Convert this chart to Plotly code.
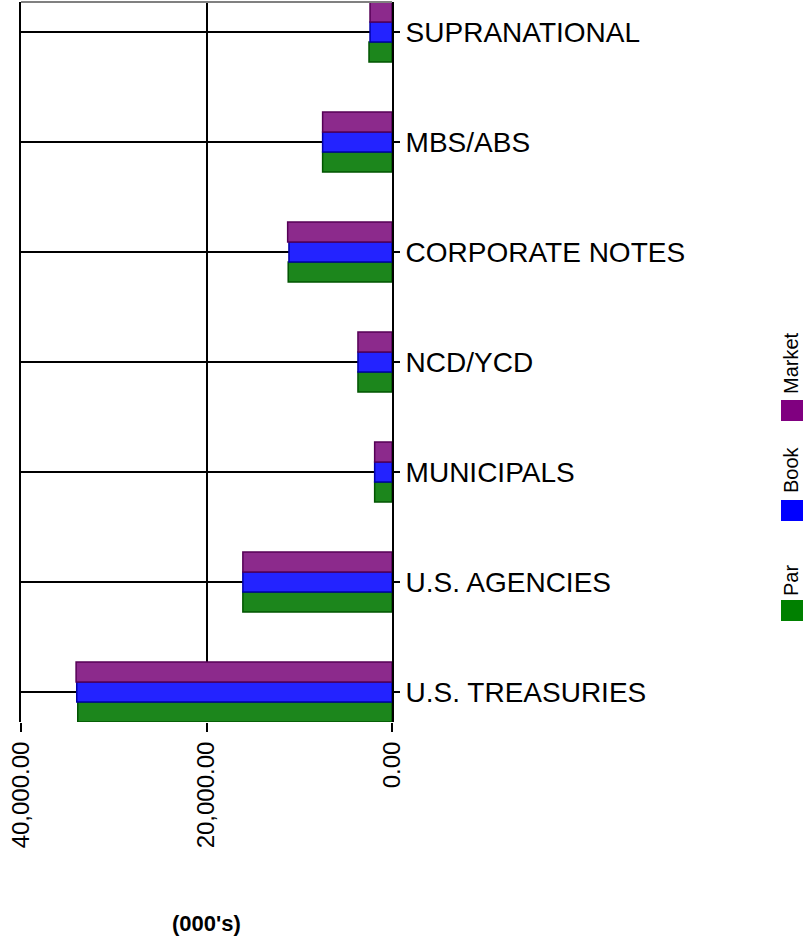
import plotly.graph_objects as go

categories = ["U.S. TREASURIES", "U.S. AGENCIES", "MUNICIPALS", "NCD/YCD",
              "CORPORATE NOTES", "MBS/ABS", "SUPRANATIONAL"]
par = [33880, 16080, 1870, 3670, 11190, 7480, 2480]
book = [33990, 16080, 1870, 3670, 11110, 7480, 2370]
market = [34060, 16080, 1870, 3670, 11250, 7480, 2370]

series = [
    ("Par", par, "#1c861c", "#005400", "#008000"),
    ("Book", book, "#2323ff", "#0000a8", "#0000ff"),
    ("Market", market, "#8c2a8c", "#560056", "#800080"),
]
x_ticks = [0, 20000, 40000]
x_ticklabels = ["0.00", "20,000.00", "40,000.00"]

W, H = 809, 943
L, R, T, B = 21, 392, 2, 722

fig = go.Figure()
for name, vals, fill, edge, _ in series:
    fig.add_trace(go.Bar(
        y=categories, x=vals, name=name, orientation="h",
        marker=dict(color=fill, line=dict(color=edge, width=1.5)),
        showlegend=False,
    ))

# top border of the plot frame
fig.add_shape(type="line", xref="x", yref="paper", x0=40000, x1=0, y0=1, y1=1,
              line=dict(color="#808080", width=2))

# axis title
fig.add_annotation(x=20000, xref="x", yref="paper", y=(B - 924) / (B - T),
                   yanchor="middle", xanchor="center",
                   text="<b>(000's)</b>", showarrow=False,
                   font=dict(family="Liberation Sans", size=22, color="#000"))

# hand-made legend (rotated labels, like the reference)
def px_x(p):
    return (p - L) / (R - L)

def px_y(p):
    return (B - p) / (B - T)

legend_pos = {"Par": (600, 581), "Book": (500, 470), "Market": (400, 363)}
for name, vals, fill, edge, swatch in series:
    sq_top, txt_mid = legend_pos[name]
    fig.add_shape(type="rect", xref="paper", yref="paper",
                  x0=px_x(781), x1=px_x(803), y0=px_y(sq_top + 21), y1=px_y(sq_top),
                  fillcolor=swatch, line=dict(width=0))
    fig.add_annotation(xref="paper", yref="paper", x=px_x(791), y=px_y(txt_mid),
                       xanchor="center", yanchor="middle",
                       text=name, textangle=-90, showarrow=False,
                       font=dict(family="Liberation Sans", size=20, color="#000"))

fig.update_layout(
    width=W, height=H,
    margin=dict(l=L, r=W - R, t=T, b=H - B, autoexpand=False),
    barmode="group", bargap=0.455, bargroupgap=0,
    plot_bgcolor="white", paper_bgcolor="white",
    font=dict(family="Liberation Sans", color="#000"),
    xaxis=dict(
        range=[40000, 0], tickvals=x_ticks, ticktext=x_ticklabels,
        tickangle=-90, ticks="outside", ticklen=9, tickwidth=2, tickcolor="#000",
        showgrid=True, gridcolor="#000", gridwidth=2, zeroline=False,
        showline=False, tickfont=dict(size=24),
    ),
    yaxis=dict(
        side="right", range=[-0.273, 6.273],
        ticks="outside", ticklen=6, tickwidth=2, tickcolor="#000",
        showgrid=True, gridcolor="#000", gridwidth=2,
        showline=True, linecolor="#000", linewidth=2, mirror=True,
        tickfont=dict(size=28), ticklabelstandoff=0,
    ),
)

fig.write_html("out.html", config={"displayModeBar": False},
               post_script="document.body.style.margin='0';")
